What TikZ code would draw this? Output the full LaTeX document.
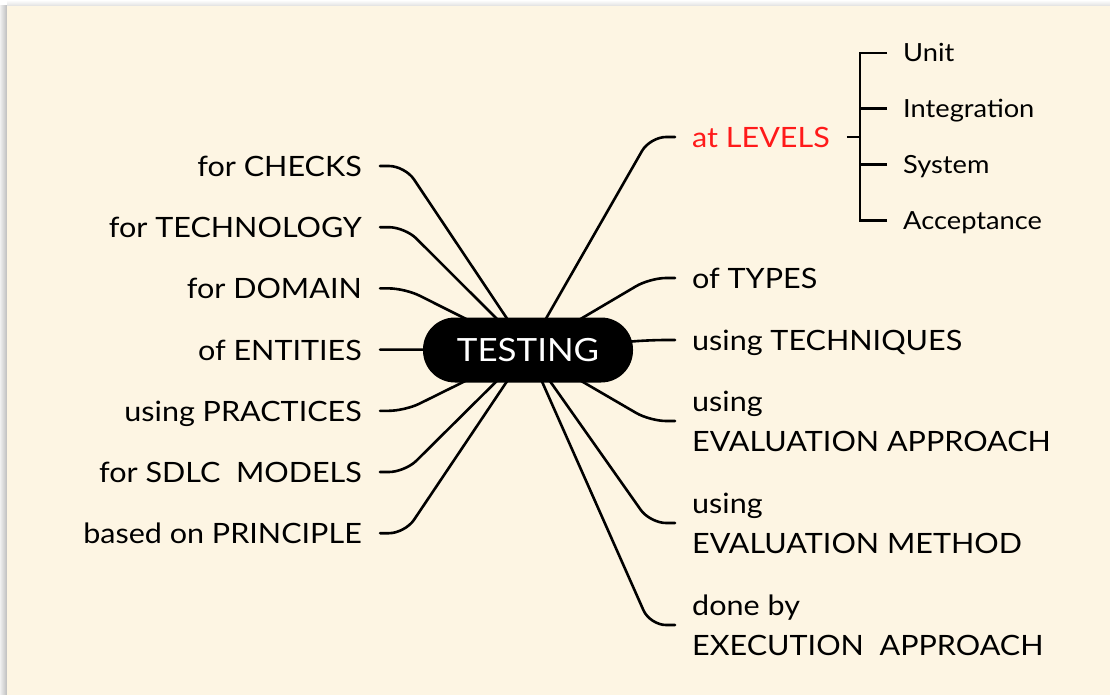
\documentclass[tikz,border=0pt]{standalone}
\usepackage{fontspec}
\setmainfont{Lato}[FakeStretch=1.09]
\definecolor{paper}{HTML}{FDF5E3}
\definecolor{levelred}{HTML}{FF1A1A}
\pgfdeclarelayer{bg}
\pgfsetlayers{bg,main}
\tikzset{
	branch/.style={line width=2.6pt, rounded corners=16pt, line cap=round},
	subbranch/.style={line width=2.8pt},
	leftlabel/.style={anchor=east, inner xsep=18pt, inner ysep=0pt, text height=21pt, text depth=0pt, font=\fontsize{28}{34}\selectfont},
	rightlabel/.style={anchor=west, inner xsep=17pt, inner ysep=0pt, text height=21pt, text depth=0pt, font=\fontsize{28}{34}\selectfont},
	twolabel/.style={anchor=west, align=left, inner xsep=17pt, inner ysep=0pt, font=\fontsize{28}{40}\selectfont},
	levellabel/.style={anchor=west, inner xsep=16pt, inner ysep=0pt, text height=18pt, text depth=0pt, font=\fontsize{25}{30}\selectfont},
	hubbox/.style={fill=black, text=white, rounded corners=32pt, minimum width=210pt, minimum height=65pt, font=\fontsize{32}{38}\selectfont}
}
\begin{document}
\begin{tikzpicture}[x=1pt, y=-1pt]
	\useasboundingbox (0,0) rectangle (1110,695);
	\begin{pgfonlayer}{bg}
		\shade[left color=black!6, right color=black!26] (0,6) rectangle (7,695);
		\shade[top color=white, bottom color=black!12] (7,0) rectangle (1110,6);
		\fill[paper] (7,6) rectangle (1110,695);
	\end{pgfonlayer}
	% centre
	\node[hubbox] (hub) at (528,350) {TESTING};
	% left side
	\foreach \txt [count=\i] in {for CHECKS, for TECHNOLOGY, for DOMAIN, of ENTITIES, using PRACTICES, {for SDLC~~MODELS}, based on PRINCIPLE}
		\node[leftlabel] (l\i) at (380, 166+61.2*\i-61.2) {\txt};
	% right side
	\node[rightlabel, text=levelred] (r1) at (675,137) {at LEVELS};
	\node[rightlabel] (r2) at (675,278) {of TYPES};
	\node[rightlabel] (r3) at (675,340) {using TECHNIQUES};
	\node[twolabel] (r4) at (675,421) {using\\EVALUATION APPROACH};
	\node[twolabel] (r5) at (675,523) {using\\EVALUATION METHOD};
	\node[twolabel] (r6) at (675,625) {done by\\EXECUTION~~APPROACH};
	% levels
	\coordinate (fork) at (860,137);
	\foreach \txt [count=\i] in {Unit, Integration, System, Acceptance}
		\node[levellabel] (v\i) at (887, 53+55.7*\i-55.7) {\txt};
	\begin{pgfonlayer}{bg}
		\foreach \i in {1, ..., 7}
			\draw[branch] (l\i.east) -- ++(25,0) -- (hub.center);
		\foreach \i in {1, ..., 6}
			\draw[branch] (r\i.west) -- ++(-25,0) -- (hub.center);
		\draw[subbranch] (r1.east) -- (fork);
		\foreach \i in {1, ..., 4}
			\draw[subbranch] (v\i.west) -| (fork);
	\end{pgfonlayer}
\end{tikzpicture}
\end{document}
